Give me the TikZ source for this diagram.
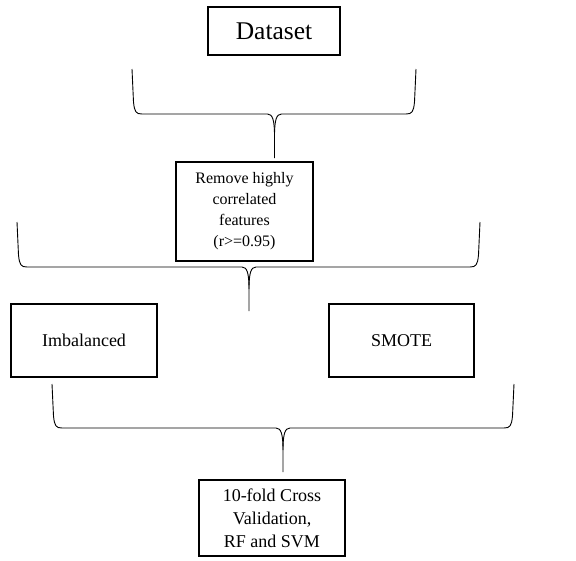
\documentclass[tikz,border=0pt]{standalone}
\usepackage{fontspec}
\setmainfont{Liberation Serif}
\usetikzlibrary{calc}

\tikzset{
  stagebox/.style={draw=black, line width=1.3pt, rectangle, inner sep=0pt,
    align=center, font=\fontsize{18}{23}\selectfont},
  bracestyle/.style={draw=black, line width=0.9pt, line join=round}
}

% Downward curly brace: #1 left end, #2 right end, #3 point at the
% middle of the horizontal bar, #4 bottom of the tip.
\newcommand{\downbrace}[4]{%
  \draw[bracestyle] (#1) -- ($(#1 |- #3)+(1.5,-12)$)
    .. controls ($(#1 |- #3)+(2.5,-2)$) and ($(#1 |- #3)+(4,0)$) .. ($(#1 |- #3)+(10,0)$)
    -- ($(#3)+(-7,0)$)
    .. controls ($(#3)+(-2,0)$) and ($(#3)+(0,6)$) .. ($(#3)+(0,22)$)
    -- (#4);
  \draw[bracestyle] (#2) -- ($(#2 |- #3)+(-1.5,-12)$)
    .. controls ($(#2 |- #3)+(-2.5,-2)$) and ($(#2 |- #3)+(-4,0)$) .. ($(#2 |- #3)+(-10,0)$)
    -- ($(#3)+(7,0)$)
    .. controls ($(#3)+(2,0)$) and ($(#3)+(0,6)$) .. ($(#3)+(0,22)$);
}

\begin{document}
\begin{tikzpicture}[x=1pt, y=-1pt]
  \useasboundingbox (0,0) rectangle (576,560);

  % Stages
  \node[stagebox, minimum width=132pt, minimum height=48pt,
        font=\fontsize{25.5}{30}\selectfont] (dataset) at (274,31) {Dataset};
  \node[stagebox, minimum width=137pt, minimum height=99pt,
        font=\fontsize{16}{21}\selectfont] (remove) at (244.5,211.5)
        {Remove highly\\correlated\\features\\(r>=0.95)};
  \node[stagebox, minimum width=146pt, minimum height=73pt] (imbal) at (84,340.5) {Imbalanced};
  \node[stagebox, minimum width=145pt, minimum height=73pt] (smote) at (401.5,340.5) {SMOTE};
  \node[stagebox, minimum width=146pt, minimum height=76pt] (cv) at (272,518)
        {10-fold Cross\\Validation,\\RF and SVM};

  % Brace end points
  \coordinate (b1l) at (132,69);
  \coordinate (b1r) at (416,69);
  \coordinate (b1c) at (274.5,114);
  \coordinate (b1t) at (274.5,158);

  \coordinate (b2l) at (17,222);
  \coordinate (b2r) at (480,222);
  \coordinate (b2c) at (249,267);
  \coordinate (b2t) at (249,311);

  \coordinate (b3l) at (52,384);
  \coordinate (b3r) at (514,384);
  \coordinate (b3c) at (283,428);
  \coordinate (b3t) at (283,472);

  % Braces joining the stages
  \downbrace{b1l}{b1r}{b1c}{b1t}
  \downbrace{b2l}{b2r}{b2c}{b2t}
  \downbrace{b3l}{b3r}{b3c}{b3t}
\end{tikzpicture}
\end{document}
